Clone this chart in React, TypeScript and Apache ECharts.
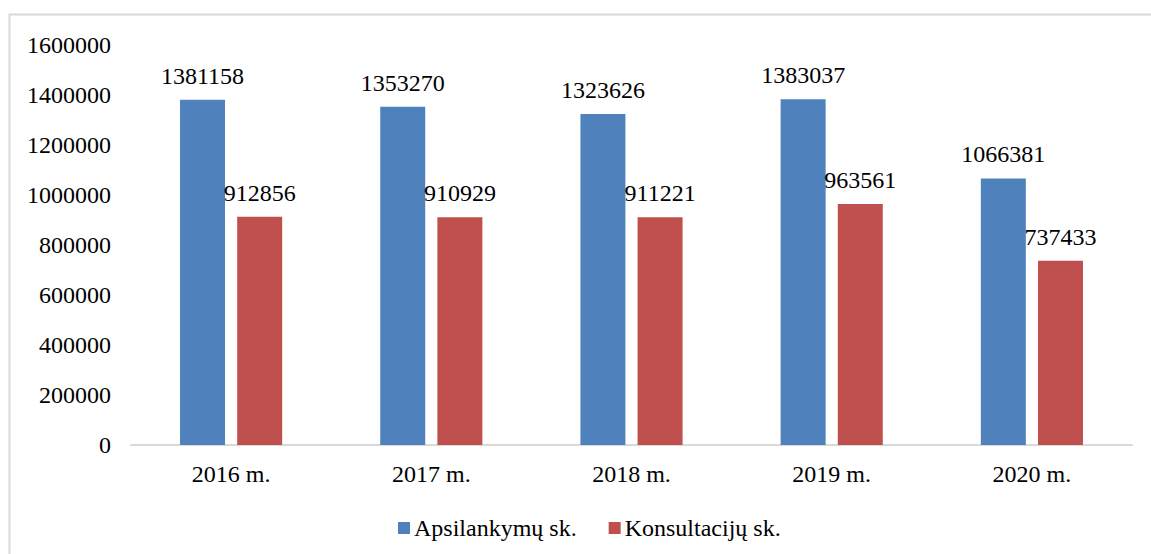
import React, { useEffect, useRef } from "react";
import * as echarts from "echarts";

const categories = ["2016 m.", "2017 m.", "2018 m.", "2019 m.", "2020 m."];
const apsilankymu = [1381158, 1353270, 1323626, 1383037, 1066381];
const konsultaciju = [912856, 910929, 911221, 963561, 737433];
const seriesNames = ["Apsilankymų sk.", "Konsultacijų sk."];

const FONT = "'Liberation Serif', 'Times New Roman', serif";
const FS = 24;

export default function App() {
  const ref = useRef<HTMLDivElement>(null);
  useEffect(() => {
    if (!ref.current) return;
    const chart = echarts.init(ref.current, undefined, { renderer: "svg" });
    const labelStyle = {
      show: true,
      position: "top" as const,
      distance: 12,
      color: "#000",
      fontFamily: FONT,
      fontSize: FS,
    };
    chart.setOption({
      animation: false,
      backgroundColor: "#fff",
      textStyle: { fontFamily: FONT },
      graphic: [
        {
          type: "rect",
          shape: { x: 9.5, y: 14.5, width: 1300, height: 700 },
          style: { fill: "none", stroke: "#d9d9d9", lineWidth: 2 },
          silent: true,
          z: -1,
        },
      ],
      grid: { left: 131, right: 19, top: 45, bottom: 109, containLabel: false },
      xAxis: {
        type: "category",
        data: categories,
        axisLine: { lineStyle: { color: "#d9d9d9", width: 2 } },
        axisTick: { show: false },
        axisLabel: { color: "#000", fontFamily: FONT, fontSize: FS, margin: 17 },
      },
      yAxis: {
        type: "value",
        min: 0,
        max: 1600000,
        interval: 200000,
        splitLine: { show: false },
        axisLine: { show: false },
        axisTick: { show: false },
        axisLabel: {
          color: "#000",
          fontFamily: FONT,
          fontSize: FS,
          margin: 20,
          formatter: (v: number) => String(v),
        },
      },
      legend: {
        data: seriesNames,
        left: 393,
        top: 511,
        itemWidth: 12,
        itemHeight: 12,
        itemGap: 32,
        icon: "rect",
        textStyle: { color: "#000", fontFamily: FONT, fontSize: FS, padding: [0, 0, 0, -1] },
      },
      series: [
        {
          name: seriesNames[0],
          type: "bar",
          data: apsilankymu,
          barWidth: 45,
          barGap: "27%",
          itemStyle: { color: "#4F81BD" },
          label: labelStyle,
        },
        {
          name: seriesNames[1],
          type: "bar",
          data: konsultaciju,
          barWidth: 45,
          itemStyle: { color: "#C0504D" },
          label: labelStyle,
        },
      ],
    });
    return () => chart.dispose();
  }, []);
  return (
    <div
      ref={ref}
      style={{ position: "absolute", left: 0, top: 0, width: 1151, height: 554 }}
    />
  );
}
